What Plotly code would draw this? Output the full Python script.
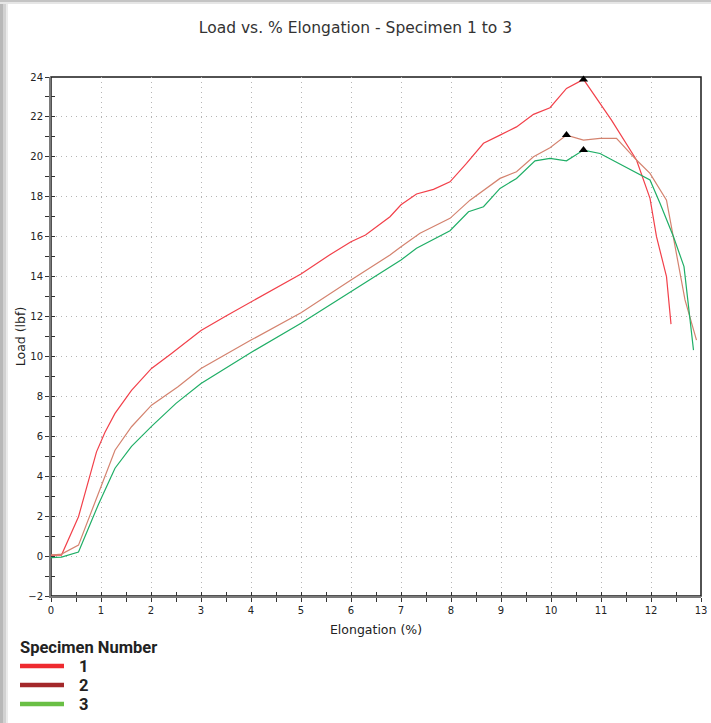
import plotly.graph_objects as go
import numpy as np

# ---------------- data ----------------
x_1 = [0, 0.21, 0.55, 0.91, 1.08, 1.28, 1.61, 2.01, 2.41, 2.78, 3.0, 3.5, 4.0, 4.5, 5.0, 5.57, 6.0, 6.29,
       6.49, 6.78, 7.0, 7.31, 7.65, 7.98, 8.31, 8.65, 8.98, 9.31, 9.65, 9.98, 10.31, 10.65, 11.21, 11.71,
       11.98, 12.11, 12.31, 12.4]
y_1 = [0.05, 0.05, 1.97, 5.22, 6.2, 7.15, 8.3, 9.4, 10.15, 10.9, 11.3, 12.03, 12.74, 13.45, 14.13, 15.08,
       15.75, 16.08, 16.47, 17.0, 17.6, 18.14, 18.37, 18.75, 19.67, 20.68, 21.09, 21.5, 22.13, 22.46, 23.43,
       23.88, 21.84, 19.84, 17.92, 16.0, 14.0, 11.62]

x_2 = [0, 0.21, 0.55, 0.95, 1.28, 1.61, 2.01, 2.54, 3.0, 4.0, 5.0, 6.0, 6.78, 7.0, 7.38, 7.98, 8.38, 8.98,
       9.31, 9.65, 9.98, 10.31, 10.65, 10.98, 11.31, 11.71, 11.98, 12.31, 12.45, 12.68, 12.91]
y_2 = [0.05, 0.1, 0.55, 3.1, 5.3, 6.48, 7.56, 8.48, 9.4, 10.82, 12.19, 13.83, 15.08, 15.5, 16.17, 16.92,
       17.83, 18.92, 19.25, 20.0, 20.46, 21.09, 20.84, 20.93, 20.93, 19.84, 19.17, 17.83, 16.0, 12.83, 10.82]

x_3 = [0, 0.21, 0.55, 0.95, 1.28, 1.61, 2.01, 2.5, 3.0, 4.0, 5.0, 6.0, 6.78, 7.0, 7.31, 7.98, 8.35, 8.65,
       8.98, 9.31, 9.68, 9.98, 10.31, 10.65, 10.98, 11.78, 11.98, 12.18, 12.45, 12.66, 12.75, 12.85]
y_3 = [-0.08, -0.05, 0.2, 2.6, 4.4, 5.5, 6.5, 7.65, 8.65, 10.2, 11.66, 13.24, 14.5, 14.83, 15.42, 16.3,
       17.25, 17.5, 18.42, 18.92, 19.8, 19.92, 19.8, 20.34, 20.17, 19.09, 18.84, 17.67, 16.0, 14.5, 12.49, 10.32]

specimens = ["1", "2", "3"]
line_colors = ["#f2404a", "#d4836f", "#1fae66"]
legend_colors = ["#ee2a2f", "#a3282a", "#6abf45"]

title_text = "Load vs. % Elongation - Specimen 1 to 3"
x_title = "Elongation (%)"
y_title = "Load (lbf)"
legend_title = "Specimen Number"

# ---------------- figure ----------------
W, H = 711, 723
ML, MR, MT, MB = 51, 10, 77, 127
PW, PH = W - ML - MR, H - MT - MB


def px(xp):
    return (xp - ML) / PW


def py(yp):
    return (H - MB - yp) / PH


fig = go.Figure()
series = [(x_1, y_1), (x_2, y_2), (x_3, y_3)]
for (xs, ys), name, col in zip(series, specimens, line_colors):
    fig.add_trace(go.Scatter(x=xs, y=ys, mode="lines", name=name,
                             line=dict(color=col, width=1.2), showlegend=False))
# peak markers
pk_x, pk_y = [], []
for xs, ys in series:
    i = int(np.argmax(ys))
    pk_x.append(xs[i])
    pk_y.append(ys[i])
fig.add_trace(go.Scatter(x=pk_x, y=pk_y, mode="markers", showlegend=False, cliponaxis=False,
                         marker=dict(symbol="triangle-up", size=8, color="black")))

# dummy trace for overlay axes (crossing ticks)
fig.add_trace(go.Scatter(x=[None], y=[None], xaxis="x2", yaxis="y2", showlegend=False))

tickfont = dict(family="DejaVu Sans", size=10, color="#222")
common = dict(showgrid=True, gridcolor="#b5b5b5", griddash="1px,4px", gridwidth=1, zeroline=False,
              showline=True, linecolor="#7a7a7a", linewidth=2, ticks="outside", ticklen=4,
              tickcolor="#333", tickwidth=1, tickfont=tickfont, automargin=False)
fig.update_layout(
    width=W, height=H, margin=dict(l=ML, r=MR, t=MT, b=MB),
    paper_bgcolor="white", plot_bgcolor="white",
    title=dict(text=title_text, x=0.5, xanchor="center", y=1 - 28 / H, yanchor="middle",
               font=dict(family="DejaVu Sans", size=15.5, color="#333")),
    xaxis=dict(range=[0, 13], tick0=0, dtick=1,
               minor=dict(dtick=0.5, ticks="outside", ticklen=4, tickcolor="#333", showgrid=False),
               title=dict(text=x_title, standoff=10, font=dict(family="DejaVu Sans", size=12.5, color="#222")),
               **common),
    yaxis=dict(range=[-2, 24], tick0=0, dtick=2,
               minor=dict(dtick=1, ticks="outside", ticklen=4, tickcolor="#333", showgrid=False),
               title=dict(text=y_title, standoff=0, font=dict(family="DejaVu Sans", size=12.5, color="#222")),
               **common),
    xaxis2=dict(overlaying="x", anchor="y2", range=[0, 13], tick0=0, dtick=1, ticks="inside", ticklen=4,
                tickcolor="#333", showticklabels=False, showgrid=False, zeroline=False, showline=False,
                minor=dict(dtick=0.5, ticks="inside", ticklen=4, tickcolor="#333")),
    yaxis2=dict(overlaying="y", anchor="x2", range=[-2, 24], tick0=0, dtick=2, ticks="inside", ticklen=4,
                tickcolor="#333", showticklabels=False, showgrid=False, zeroline=False, showline=False,
                minor=dict(dtick=1, ticks="inside", ticklen=4, tickcolor="#333")),
    showlegend=False,
)

shapes = []
# frame (top/right border)
shapes.append(dict(type="rect", xref="paper", yref="paper", x0=0, x1=1, y0=0, y1=1,
                   line=dict(color="#1a1a1a", width=1.5), layer="below"))
# left / top shadow of the picture frame
for x0, x1, c in [(0, 3, "#b8b8b8"), (3, 6, "#d2d2d2"), (6, 8, "#ebebeb")]:
    shapes.append(dict(type="rect", xref="paper", yref="paper", x0=px(x0), x1=px(x1), y0=py(H), y1=py(3),
                       line=dict(width=0), fillcolor=c, layer="below"))
for y0, y1, c in [(0, 2, "#c4c4c4"), (2, 4, "#e6e6e6")]:
    shapes.append(dict(type="rect", xref="paper", yref="paper", x0=px(0), x1=px(W), y0=py(y1), y1=py(y0),
                       line=dict(width=0), fillcolor=c, layer="below"))

legfont = dict(family="Roboto, sans-serif", size=16.5, color="#222")
annotations = [dict(text="<b>" + legend_title + "</b>", xref="paper", yref="paper", x=px(18), y=py(647),
                    xanchor="left", yanchor="middle", showarrow=False, font=legfont)]
for k, (name, col) in enumerate(zip(specimens, legend_colors)):
    yy = 666 + 19 * k
    shapes.append(dict(type="line", xref="paper", yref="paper", x0=px(20), x1=px(64), y0=py(yy), y1=py(yy),
                       line=dict(color=col, width=4.5)))
    annotations.append(dict(text="<b>" + name + "</b>", xref="paper", yref="paper", x=px(77), y=py(yy),
                            xanchor="left", yanchor="middle", showarrow=False, font=legfont))
fig.update_layout(shapes=shapes, annotations=annotations)

fig.write_html("out.html", config={"displayModeBar": False},
               post_script="document.body.style.margin='0px';document.body.style.overflow='hidden';")
